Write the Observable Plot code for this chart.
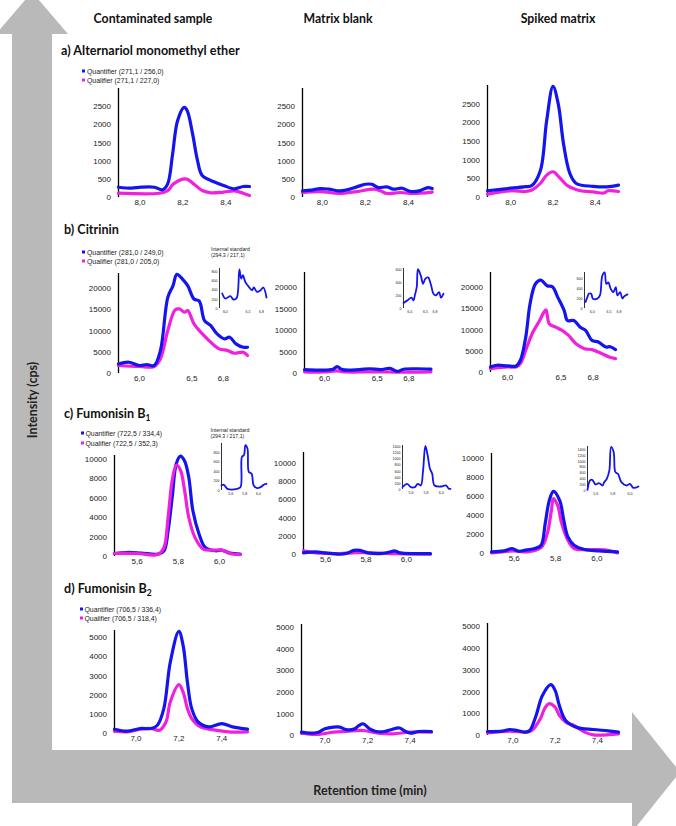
<!DOCTYPE html>
<html><head><meta charset="utf-8">
<script src="https://cdn.jsdelivr.net/npm/d3@7"></script>
<script src="https://cdn.jsdelivr.net/npm/@observablehq/plot@0.6"></script>
<style>
body{margin:0;background:#fff;}
#fig{position:relative;width:676px;height:826px;overflow:hidden;background:#fff;font-family:"Liberation Sans",Arial,sans-serif;}
.abs{position:absolute;white-space:nowrap;}
.hdr{font-family:Lato,"Open Sans",sans-serif;font-weight:bold;font-size:12.3px;color:#111;transform:translate(-50%,-50%);}
.row{font-family:Lato,"Open Sans",sans-serif;font-weight:bold;font-size:12.6px;color:#111;transform:translateY(-50%);}
.row sub{font-size:8.5px;vertical-align:-3px;line-height:0;}
.leg{font-size:6.9px;color:#222;transform:translateY(-50%);}
.leg i{display:inline-block;width:3px;height:3px;margin-right:2px;vertical-align:1px;}
.is{font-size:5.2px;color:#222;line-height:6px;}
.axt{font-family:Lato,"Open Sans",sans-serif;font-weight:bold;font-size:12.5px;color:#222;}
</style></head><body><div id="fig"></div>
<script>
// ---------------- data ----------------
const colHeaders = ["Contaminated sample", "Matrix blank", "Spiked matrix"];
const rowTitles = ["a) Alternariol monomethyl ether", "b) Citrinin", "c) Fumonisin B", "d) Fumonisin B"];
const rowSubs = ["", "", "1", "2"];
const quantLabels = ["Quantifier (271,1 / 256,0)", "Quantifier (281,0 / 249,0)", "Quantifier (722,5 / 334,4)", "Quantifier (706,5 / 336,4)"];
const qualLabels = ["Qualifier (271,1 / 227,0)", "Qualifier (281,0 / 205,0)", "Qualifier (722,5 / 352,3)", "Qualifier (706,5 / 318,4)"];
const isLabel = ["Internal standard", "(294,3 / 217,1)"];
const yAxisTitle = "Intensity (cps)";
const xAxisTitle = "Retention time (min)";

const aYTicks = [0, 500, 1000, 1500, 2000, 2500];
const aXTicks = [8.0, 8.2, 8.4];
const bYTicks = [0, 5000, 10000, 15000, 20000];
const bXTicks = [6.0, 6.5, 6.8];
const cYTicks = [0, 2000, 4000, 6000, 8000, 10000];
const cXTicks = [5.6, 5.8, 6.0];
const dYTicks = [0, 1000, 2000, 3000, 4000, 5000];
const dXTicks = [7.0, 7.2, 7.4];
const isYTicks800 = [0, 200, 400, 600, 800];
const isYTicks600 = [0, 200, 400, 600];
const isYTicks1400 = [0, 200, 400, 600, 800, 1000, 1200, 1400];

// a) Alternariol monomethyl ether
const aContQuant = [[7.90,283],[7.96,256],[8.005,283],[8.067,283],[8.105,211],[8.129,376],[8.152,1200],[8.175,2115],[8.206,2480],[8.22,2390],[8.245,1750],[8.268,1016],[8.29,604],[8.35,420],[8.39,330],[8.44,239],[8.48,302],[8.51,302]];
const aContQual = [[7.90,118],[8.09,118],[8.13,192],[8.156,376],[8.214,513],[8.25,376],[8.29,192],[8.33,129],[8.39,150],[8.44,180],[8.48,118],[8.51,55]];
const aBlankQuant = [[7.908,183],[7.95,202],[7.99,246],[8.03,229],[8.08,183],[8.11,202],[8.16,292],[8.2,364],[8.23,364],[8.26,273],[8.3,292],[8.33,229],[8.37,255],[8.41,164],[8.45,183],[8.49,273],[8.51,246]];
const aBlankQual = [[7.908,137],[7.99,164],[8.08,110],[8.16,164],[8.24,229],[8.27,183],[8.3,110],[8.36,137],[8.42,110],[8.51,150]];
const aSpkQuant = [[7.89,180],[8.0,250],[8.07,290],[8.1,320],[8.14,715],[8.17,2055],[8.2,2975],[8.225,2500],[8.25,1430],[8.28,640],[8.31,375],[8.39,300],[8.455,285],[8.51,330]];
const aSpkQual = [[7.89,90],[8.0,180],[8.07,160],[8.1,200],[8.14,375],[8.17,600],[8.2,690],[8.23,540],[8.27,310],[8.33,180],[8.39,150],[8.44,120],[8.46,180],[8.51,160]];

// b) Citrinin
const bContQuant = [[5.80,2270],[5.90,2650],[6.0,1880],[6.07,2110],[6.14,1880],[6.2,5400],[6.27,17900],[6.32,20650],[6.356,23300],[6.41,22200],[6.46,20650],[6.52,17500],[6.57,17000],[6.62,12440],[6.68,11260],[6.74,9300],[6.81,8140],[6.86,8530],[6.92,6970],[6.99,6170],[7.03,6170]];
const bContQual = [[5.80,1880],[6.0,1640],[6.14,1640],[6.2,3450],[6.27,10090],[6.34,14950],[6.38,15180],[6.43,14390],[6.46,14800],[6.52,11660],[6.6,9300],[6.68,7350],[6.76,5790],[6.84,5400],[6.9,4770],[6.99,4990],[7.03,4220]];
const bContIS = [[5.93,330],[6.0,220],[6.11,271],[6.18,198],[6.25,230],[6.31,858],[6.35,660],[6.39,733],[6.44,585],[6.52,475],[6.59,403],[6.63,462],[6.70,365],[6.78,403],[6.84,462],[6.91,242]];
const bBlankQuant = [[5.81,900],[5.96,800],[6.08,1000],[6.12,1600],[6.17,900],[6.33,900],[6.43,1100],[6.53,900],[6.62,1200],[6.69,500],[6.75,1000],[6.88,1100],[7.01,1000]];
const bBlankQual = [[5.81,400],[6.0,350],[6.12,600],[6.2,350],[6.5,400],[6.7,300],[7.01,400]];
const bBlankIS = [[5.8,86],[5.93,128],[6.05,169],[6.12,128],[6.16,205],[6.22,333],[6.26,616],[6.35,513],[6.42,385],[6.49,462],[6.58,487],[6.67,374],[6.75,231],[6.83,205],[6.93,256],[6.99,169],[7.07,231]];
const bSpkQuant = [[5.84,1310],[5.9,1700],[6.0,1540],[6.08,1540],[6.12,2870],[6.17,8320],[6.21,16100],[6.26,20800],[6.31,21720],[6.37,20390],[6.42,20160],[6.47,17660],[6.53,14550],[6.56,12220],[6.62,12220],[6.68,10650],[6.73,9880],[6.79,7545],[6.85,7150],[6.92,5980],[6.96,6060],[7.01,5370]];
const bSpkQual = [[5.84,930],[6.0,1310],[6.08,1310],[6.12,2100],[6.18,5980],[6.23,9110],[6.3,12220],[6.34,14160],[6.36,14700],[6.39,11450],[6.45,10650],[6.51,9880],[6.57,8710],[6.64,6770],[6.72,5600],[6.79,5370],[6.87,4580],[6.95,3640],[7.01,3270]];
const bSpkIS = [[5.8,133],[5.85,220],[5.9,300],[5.97,300],[6.02,200],[6.15,200],[6.23,266],[6.3,666],[6.37,733],[6.42,500],[6.48,533],[6.55,400],[6.63,333],[6.7,433],[6.75,266],[6.83,333],[6.9,200],[6.95,246],[7.05,286]];

// c) Fumonisin B1
const cContQuant = [[5.49,310],[5.55,414],[5.62,352],[5.7,245],[5.73,590],[5.75,2660],[5.77,6110],[5.79,9570],[5.81,10330],[5.83,9840],[5.85,8180],[5.87,4730],[5.9,2320],[5.93,930],[5.98,590],[6.01,660],[6.05,360],[6.1,245]];
const cContQual = [[5.49,310],[5.6,310],[5.7,200],[5.73,930],[5.75,4040],[5.77,7840],[5.79,9400],[5.81,8880],[5.83,6810],[5.85,4040],[5.88,1970],[5.92,770],[5.97,660],[6.01,660],[6.05,310],[6.1,200]];
const cContIS = [[5.465,107],[5.5,122],[5.55,36],[5.69,36],[5.74,72],[5.76,716],[5.79,752],[5.81,967],[5.84,895],[5.86,394],[5.9,358],[5.93,107],[5.98,50],[6.03,72],[6.08,129],[6.115,143]];
const cBlankQuant = [[5.49,174],[5.55,283],[5.6,174],[5.67,30],[5.71,174],[5.74,450],[5.77,450],[5.81,174],[5.87,100],[5.92,283],[5.94,392],[5.97,174],[6.04,100],[6.12,100]];
const cBlankQual = [[5.49,392],[5.55,174],[5.67,100],[5.75,210],[5.82,174],[5.92,100],[6.12,30]];
const cBlankIS = [[5.49,78],[5.55,189],[5.6,78],[5.65,78],[5.69,189],[5.73,133],[5.76,633],[5.79,1444],[5.82,1133],[5.85,689],[5.88,522],[5.91,133],[6.0,100],[6.06,133],[6.1,22],[6.12,22]];
const cSpkQuant = [[5.49,167],[5.55,272],[5.59,523],[5.62,237],[5.66,375],[5.7,523],[5.73,870],[5.75,3140],[5.77,5580],[5.79,6520],[5.82,5580],[5.84,3490],[5.86,1740],[5.89,870],[5.94,419],[6.01,272],[6.1,167]];
const cSpkQual = [[5.49,62],[5.6,272],[5.66,167],[5.73,620],[5.76,2090],[5.78,4530],[5.79,5760],[5.81,5060],[5.83,3140],[5.86,1390],[5.89,523],[5.97,419],[6.04,375],[6.1,62]];
const cSpkIS = [[5.505,23],[5.535,345],[5.56,368],[5.6,207],[5.64,253],[5.68,172],[5.7,287],[5.73,402],[5.76,690],[5.78,1495],[5.81,1322],[5.83,633],[5.86,575],[5.9,287],[5.96,172],[6.0,230],[6.04,92],[6.1,138]];

// d) Fumonisin B2
const dContQuant = [[6.9,225],[6.96,120],[7.02,260],[7.07,260],[7.1,433],[7.13,1300],[7.16,3720],[7.2,5330],[7.22,4590],[7.24,2680],[7.26,1300],[7.29,600],[7.34,347],[7.4,520],[7.45,347],[7.52,225]];
const dContQual = [[6.9,120],[6.96,85],[7.02,225],[7.07,260],[7.11,173],[7.14,600],[7.16,1650],[7.2,2550],[7.22,2160],[7.24,1300],[7.26,780],[7.3,347],[7.37,173],[7.43,85],[7.52,85]];
const dBlankQuant = [[6.89,155],[6.93,108],[6.97,155],[7.0,310],[7.04,387],[7.07,387],[7.1,270],[7.14,310],[7.16,465],[7.18,543],[7.21,310],[7.24,186],[7.28,186],[7.31,270],[7.35,350],[7.37,232],[7.4,108],[7.44,186],[7.5,186]];
const dBlankQual = [[6.89,108],[6.96,46],[7.04,155],[7.1,186],[7.18,232],[7.25,108],[7.32,77],[7.4,155],[7.5,155]];
const dSpkQuant = [[6.88,184],[6.95,200],[6.985,276],[7.02,230],[7.06,154],[7.08,230],[7.11,922],[7.14,1844],[7.18,2336],[7.2,2075],[7.22,1383],[7.25,692],[7.3,384],[7.38,276],[7.45,215],[7.5,154]];
const dSpkQual = [[6.88,123],[6.985,200],[7.06,154],[7.09,230],[7.13,768],[7.15,1230],[7.17,1460],[7.2,1306],[7.22,922],[7.25,615],[7.29,461],[7.34,154],[7.38,30],[7.5,77]];

// ---------------- style / layout ----------------
const BLUE = "#1414ee", PINK = "#f020dc";
const FONT = "'Liberation Sans', Arial, sans-serif";
const fmtX = d => d.toFixed(1).replace(".", ",");
const fmtY = d => String(d);
const fig = document.getElementById("fig");

// background arrows (decoration)
const NS = "http://www.w3.org/2000/svg";
const bg = document.createElementNS(NS, "svg");
bg.setAttribute("width", 676); bg.setAttribute("height", 826);
bg.style.position = "absolute"; bg.style.left = "0"; bg.style.top = "0";
bg.innerHTML = `<g fill="#b9b9b9">
  <polygon points="12,30 52,30 52,750 632,750 632,712 680,772 632,832 632,803 12,803"/>
  <polygon points="-4,34 32,-8 68,34"/>
</g>`;
fig.appendChild(bg);

function addText(cls, html, x, y, extra) {
  const d = document.createElement("div");
  d.className = "abs " + cls;
  d.innerHTML = html;
  d.style.left = x + "px"; d.style.top = y + "px";
  if (extra) Object.assign(d.style, extra);
  fig.appendChild(d);
  return d;
}

// axis titles
addText("axt", yAxisTitle, 32, 400, {transform: "translate(-50%,-50%) rotate(-90deg)"});
addText("axt", xAxisTitle, 370, 790, {transform: "translate(-50%,-50%)"});

// column headers
[153, 338, 558].forEach((x, i) => addText("hdr", colHeaders[i], x, 18));

// row titles
[[61, 50], [64, 229], [64, 413], [64, 588]].forEach(([x, y], i) =>
  addText("row", rowTitles[i] + (rowSubs[i] ? `<sub>${rowSubs[i]}</sub>` : ""), x, y));

// legends
[[82, 71, 80], [82, 252, 261], [80.5, 433, 443], [79.5, 609, 618]].forEach(([x, y1, y2], i) => {
  addText("leg", `<i style="background:${BLUE}"></i>${quantLabels[i]}`, x, y1);
  addText("leg", `<i style="background:${PINK}"></i>${qualLabels[i]}`, x, y2);
});
// internal standard labels
[[211, 246], [210.5, 427]].forEach(([x, y]) => addText("is", isLabel.join("<br>"), x, y));

function panel(p, small) {
  const m = small ? {l: 14, r: 2, t: 1, b: 7} : {l: 40, r: 4, t: 2, b: 16};
  const width = p.rightX - p.axisX + m.l + m.r;
  const height = p.zeroY - p.topY + m.t + m.b;
  const chart = Plot.plot({
    width, height,
    marginLeft: m.l, marginRight: m.r, marginTop: m.t, marginBottom: m.b,
    style: {background: "transparent", fontFamily: FONT, fontSize: small ? "3.6px" : "8px", color: "#222", overflow: "visible"},
    x: {domain: p.xDomain, ticks: p.xTicks, tickFormat: fmtX, tickSize: 0, tickPadding: small ? 1.5 : 2, label: null},
    y: {domain: [0, p.yMax], ticks: p.yTicks, tickFormat: fmtY, tickSize: 0, tickPadding: small ? 2 : 7.5, label: null},
    marks: [
      Plot.ruleX([p.xDomain[0]], {stroke: "#000", strokeWidth: small ? 0.8 : 1.3}),
      ...p.series.map(s => Plot.line(s.data, {x: d => d[0], y: d => d[1], stroke: s.color, strokeWidth: small ? 1.8 : 3.2, curve: "catmull-rom"}))
    ]
  });
  const d = document.createElement("div");
  d.className = "abs";
  d.style.left = (p.axisX - m.l) + "px";
  d.style.top = (p.topY - m.t) + "px";
  d.style.width = width + "px";
  d.appendChild(chart);
  fig.appendChild(d);
}

const panels = [
  {axisX: 118, topY: 88, zeroY: 197, rightX: 249, yMax: 3000, yTicks: aYTicks, xDomain: [7.9, 8.51], xTicks: aXTicks, series: [{data: aContQual, color: PINK}, {data: aContQuant, color: BLUE}]},
  {axisX: 302, topY: 88, zeroY: 197, rightX: 433, yMax: 3000, yTicks: aYTicks, xDomain: [7.908, 8.516], xTicks: aXTicks, series: [{data: aBlankQual, color: PINK}, {data: aBlankQuant, color: BLUE}]},
  {axisX: 487, topY: 85, zeroY: 197, rightX: 618, yMax: 3000, yTicks: aYTicks, xDomain: [7.89, 8.51], xTicks: aXTicks, series: [{data: aSpkQual, color: PINK}, {data: aSpkQuant, color: BLUE}]},
  {axisX: 118, topY: 273, zeroY: 373, rightX: 247, yMax: 23500, yTicks: bYTicks, xDomain: [5.8, 7.03], xTicks: bXTicks, series: [{data: bContQual, color: PINK}, {data: bContQuant, color: BLUE}]},
  {axisX: 304, topY: 272, zeroY: 373, rightX: 431, yMax: 23500, yTicks: bYTicks, xDomain: [5.81, 7.015], xTicks: bXTicks, series: [{data: bBlankQual, color: PINK}, {data: bBlankQuant, color: BLUE}]},
  {axisX: 490, topY: 272, zeroY: 372, rightX: 615, yMax: 23500, yTicks: bYTicks, xDomain: [5.84, 7.01], xTicks: bXTicks, series: [{data: bSpkQual, color: PINK}, {data: bSpkQuant, color: BLUE}]},
  {axisX: 114, topY: 455, zeroY: 556, rightX: 241, yMax: 10400, yTicks: cYTicks, xDomain: [5.49, 6.106], xTicks: cXTicks, series: [{data: cContQuant, color: BLUE}, {data: cContQual, color: PINK}]},
  {axisX: 303, topY: 452, zeroY: 554, rightX: 431, yMax: 11200, yTicks: cYTicks, xDomain: [5.49, 6.125], xTicks: cXTicks, series: [{data: cBlankQual, color: PINK}, {data: cBlankQuant, color: BLUE}]},
  {axisX: 491, topY: 453, zeroY: 553, rightX: 617, yMax: 10500, yTicks: cYTicks, xDomain: [5.49, 6.1], xTicks: cXTicks, series: [{data: cSpkQual, color: PINK}, {data: cSpkQuant, color: BLUE}]},
  {axisX: 114, topY: 630, zeroY: 733, rightX: 247, yMax: 5380, yTicks: dYTicks, xDomain: [6.9, 7.52], xTicks: dXTicks, series: [{data: dContQual, color: PINK}, {data: dContQuant, color: BLUE}]},
  {axisX: 301, topY: 624, zeroY: 735, rightX: 432, yMax: 5150, yTicks: dYTicks, xDomain: [6.89, 7.505], xTicks: dXTicks, series: [{data: dBlankQual, color: PINK}, {data: dBlankQuant, color: BLUE}]},
  {axisX: 487, topY: 623, zeroY: 735, rightX: 618, yMax: 5150, yTicks: dYTicks, xDomain: [6.88, 7.5], xTicks: dXTicks, series: [{data: dSpkQual, color: PINK}, {data: dSpkQuant, color: BLUE}]}
];
const insets = [
  {axisX: 219, topY: 268, zeroY: 308, rightX: 266, yMax: 880, yTicks: isYTicks800, xDomain: [5.87, 6.91], xTicks: bXTicks, series: [{data: bContIS, color: BLUE}]},
  {axisX: 403, topY: 268, zeroY: 308, rightX: 443, yMax: 625, yTicks: isYTicks600, xDomain: [5.8, 7.07], xTicks: bXTicks, series: [{data: bBlankIS, color: BLUE}]},
  {axisX: 584, topY: 272, zeroY: 308, rightX: 627, yMax: 732, yTicks: isYTicks600, xDomain: [5.77, 7.05], xTicks: bXTicks, series: [{data: bSpkIS, color: BLUE}]},
  {axisX: 221, topY: 443, zeroY: 490, rightX: 266, yMax: 1000, yTicks: isYTicks800, xDomain: [5.465, 6.115], xTicks: cXTicks, series: [{data: cContIS, color: BLUE}]},
  {axisX: 402, topY: 445, zeroY: 489, rightX: 450, yMax: 1456, yTicks: isYTicks1400, xDomain: [5.49, 6.12], xTicks: cXTicks, series: [{data: cBlankIS, color: BLUE}]},
  {axisX: 587, topY: 446, zeroY: 490, rightX: 638, yMax: 1513, yTicks: isYTicks1400, xDomain: [5.505, 6.1], xTicks: cXTicks, series: [{data: cSpkIS, color: BLUE}]}
];
panels.forEach(p => panel(p, false));
insets.forEach(p => panel(p, true));
</script></body></html>
